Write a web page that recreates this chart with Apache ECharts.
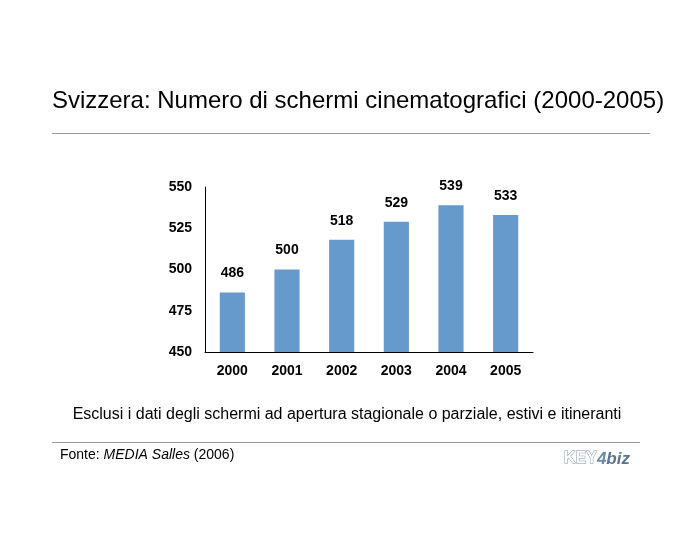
<!DOCTYPE html>
<html><head><meta charset="utf-8">
<script src="https://cdn.jsdelivr.net/npm/echarts@6/dist/echarts.min.js"></script>
<style>html,body{margin:0;padding:0;background:#fff}#c{width:700px;height:550px}</style>
</head><body><div id="c"></div>
<script>
const categories = ['2000','2001','2002','2003','2004','2005'];
const values = [486, 500, 518, 529, 539, 533];
const yTicks = [450, 475, 500, 525, 550];

const chart = echarts.init(document.getElementById('c'));
const F = '"Liberation Sans", Arial, sans-serif';
chart.setOption({
  backgroundColor: '#fff',
  animation: false,
  title: {
    text: 'Svizzera: Numero di schermi cinematografici (2000-2005)',
    left: 353, textAlign: 'center', top: 84,
    textStyle: {fontFamily: F, fontSize: 24, fontWeight: 'normal', color: '#000'}
  },
  grid: {left: 205, right: 167, top: 187, bottom: 198},
  xAxis: {
    type: 'category', data: categories,
    axisLine: {lineStyle: {color: '#000', width: 1}},
    axisTick: {show: false},
    axisLabel: {fontFamily: F, fontSize: 14, fontWeight: 'bold', color: '#000', margin: 12}
  },
  yAxis: {
    type: 'value', min: yTicks[0], max: yTicks[yTicks.length-1], interval: 25,
    axisLine: {show: true, lineStyle: {color: '#000', width: 1}},
    axisTick: {show: false},
    splitLine: {show: false},
    axisLabel: {fontFamily: F, fontSize: 14, fontWeight: 'bold', color: '#000', margin: 13}
  },
  series: [{
    type: 'bar', data: values, barWidth: '46%',
    itemStyle: {color: '#6699cc'},
    label: {show: true, position: 'top', distance: 12, fontFamily: F, fontSize: 14, fontWeight: 'bold', color: '#000'}
  }],
  graphic: [
    {type: 'line', shape: {x1: 52, y1: 133.5, x2: 650, y2: 133.5}, style: {stroke: '#999', lineWidth: 1}},
    {type: 'text', x: 347, y: 415, style: {text: 'Esclusi i dati degli schermi ad apertura stagionale o parziale, estivi e itineranti', font: '16px ' + F, fill: '#000', textAlign: 'center', textVerticalAlign: 'middle'}},
    {type: 'line', shape: {x1: 52, y1: 442.5, x2: 640, y2: 442.5}, style: {stroke: '#999', lineWidth: 1}},
    {type: 'text', x: 60, y: 455, style: {
      text: '{n|Fonte: }{i|MEDIA Salles}{n| (2006)}',
      rich: {n: {font: '14px ' + F, fill: '#000'}, i: {font: 'italic 14px ' + F, fill: '#000'}},
      textVerticalAlign: 'middle'}},
    {type: 'text', x: 564, y: 459, style: {
      text: '{k|KEY}{f|4}{b|biz}',
      rich: {
        k: {font: 'bold 16px ' + F, fill: '#fff', stroke: '#7f93a8', lineWidth: 1},
        f: {font: 'bold italic 17px ' + F, fill: '#6a8aa8'},
        b: {font: 'bold italic 17px ' + F, fill: '#5a7590'}
      },
      textVerticalAlign: 'middle'}}
  ]
});
</script></body></html>
